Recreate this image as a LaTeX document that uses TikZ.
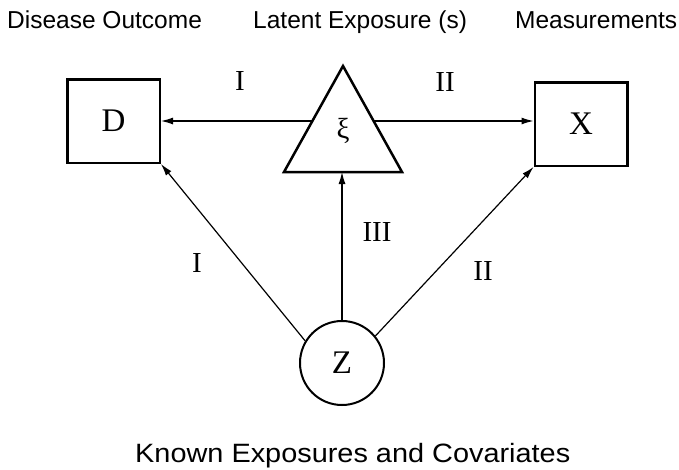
\documentclass[tikz,border=0pt]{standalone}
\usepackage{fontspec}
\setmainfont{Liberation Serif}
\newfontfamily\hv{Liberation Sans}
\usetikzlibrary{arrows.meta}
\begin{document}
\begin{tikzpicture}[x=1pt,y=1pt,
  boxnode/.style={draw, line width=2.5pt, minimum width=92.5pt, minimum height=83.5pt, inner sep=0pt, font=\fontsize{33}{33}\selectfont},
  circnode/.style={draw, circle, line width=2pt, minimum size=84pt, inner sep=0pt, font=\fontsize{33}{33}\selectfont},
  arr/.style={line width=1.2pt, -{Latex[length=12pt,width=7pt]}},
  roman/.style={inner sep=0pt, font=\fontsize{29}{29}\selectfont},
  toplabel/.style={anchor=base west, inner sep=0pt, font=\hv\fontsize{24.5}{24.5}\selectfont},
]
\useasboundingbox (0,0) rectangle (679,-469);
% top titles
\node[toplabel] (t1) at (7,-28) {Disease Outcome};
\node[toplabel] (t2) at (253,-28) {Latent Exposure (s)};
\node[toplabel] (t3) at (515,-28) {Measurements};
\node[anchor=base west, inner sep=0pt, font=\hv\fontsize{26.5}{26.5}\selectfont] (t4) at (135,-462) {\scalebox{1.09}[1]{Known Exposures and Covariates}};
% boxes
\node[boxnode] (D) at (113.5,-121) {D};
\node[boxnode] (X) at (581,-124) {X};
% triangle
\coordinate (Ta) at (343,-66);
\coordinate (Tl) at (284,-172);
\coordinate (Tr) at (402,-172);
\draw[line width=2.5pt, line join=miter] (Ta) -- (Tl) -- (Tr) -- cycle;
\node[inner sep=0pt, font=\fontsize{29}{29}\selectfont] (xi) at (343,-131) {ξ};
\coordinate (TL) at (313,-121);
\coordinate (TR) at (373.6,-121);
\coordinate (TB) at (342,-172);
% circle
\node[circnode] (Z) at (342,-363) {Z};
% connectors
\draw[arr] (TL) -- (D);
\draw[arr] (TR) -- (TR -| X.west);
\draw[arr] (Z.149) -- (D.south east);
\draw[arr] (Z.39) -- (X.south west);
\draw[arr] (Z.north) -- (TB);
% labels
\node[roman] (l1) at (240,-81) {I};
\node[roman] (l2) at (445,-82) {II};
\node[roman] (l3) at (377,-232) {III};
\node[roman] (l4) at (197,-263) {I};
\node[roman] (l5) at (483,-271) {II};
\end{tikzpicture}
\end{document}
